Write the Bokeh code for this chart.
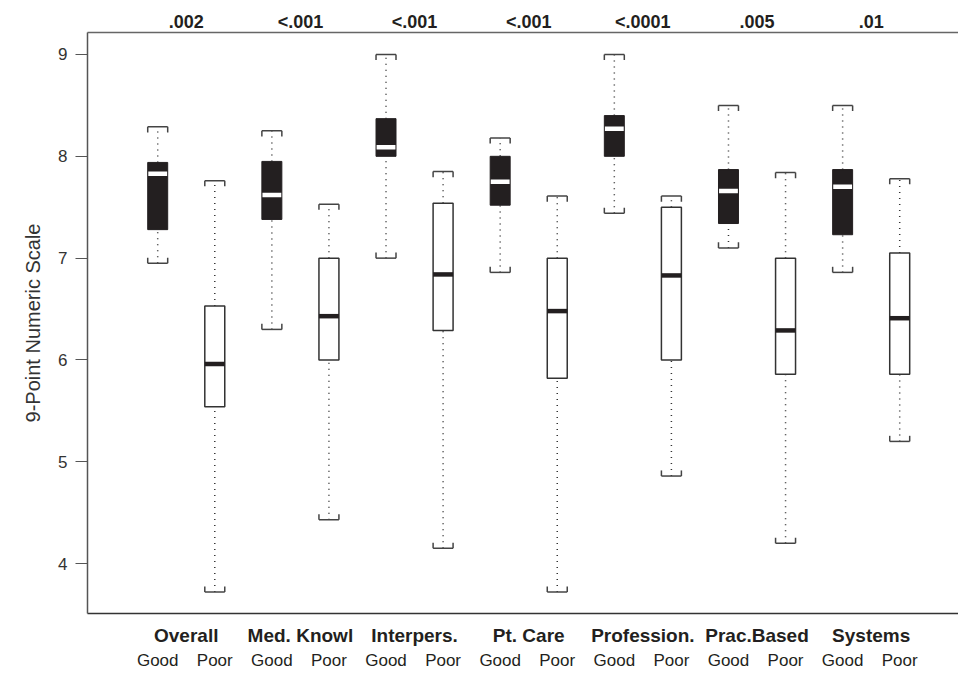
from bokeh.plotting import figure
from bokeh.models import Range1d, LinearAxis, FixedTicker, ColumnDataSource
from bokeh.embed import file_html
from bokeh.resources import INLINE

categories = ["Overall", "Med. Knowl", "Interpers.", "Pt. Care", "Profession.", "Prac.Based", "Systems"]
p_values = [".002", "<.001", "<.001", "<.001", "<.0001", ".005", ".01"]
groups = ["Good", "Poor"]
y_ticks = [4, 5, 6, 7, 8, 9]

good_low = [6.95, 6.30, 7.00, 6.86, 7.44, 7.10, 6.86]
good_q1 = [7.28, 7.38, 8.00, 7.52, 8.00, 7.34, 7.23]
good_med = [7.83, 7.62, 8.09, 7.75, 8.27, 7.66, 7.70]
good_q3 = [7.94, 7.95, 8.37, 8.00, 8.40, 7.87, 7.87]
good_high = [8.29, 8.25, 9.00, 8.18, 9.00, 8.50, 8.50]

poor_low = [3.72, 4.43, 4.15, 3.72, 4.86, 4.20, 5.20]
poor_q1 = [5.54, 6.00, 6.29, 5.82, 6.00, 5.86, 5.86]
poor_med = [5.96, 6.43, 6.84, 6.48, 6.83, 6.29, 6.41]
poor_q3 = [6.53, 7.00, 7.54, 7.00, 7.50, 7.00, 7.05]
poor_high = [7.76, 7.53, 7.85, 7.61, 7.61, 7.84, 7.78]

# layout helpers
BW = 0.35      # box width (data units)
CAP_TICK = 0.055
DARK = "#231f20"
FONT = "Liberation Sans"

n = len(categories)
good_x = [2 * i + 1 for i in range(n)]
poor_x = [2 * i + 2 for i in range(n)]
pair_x = [2 * i + 1.5 for i in range(n)]

p = figure(width=958, height=673, output_backend="svg", toolbar_location=None,
           x_range=Range1d(-0.23, 15.03), y_range=Range1d(3.51, 9.216),
           x_axis_location=None, y_axis_location="left",
           min_border_left=87, min_border_right=0, min_border_top=32, min_border_bottom=60)
p.outline_line_color = None
p.grid.grid_line_color = None
p.background_fill_color = "white"
p.border_fill_color = "white"


def draw(xs, low, q1, med, q3, high, good):
    src = ColumnDataSource(dict(
        x=xs, low=low, q1=q1, med=med, q3=q3, high=high,
        xl=[x - BW / 2 for x in xs], xr=[x + BW / 2 for x in xs],
        hi_t=[h - CAP_TICK for h in high], lo_t=[l + CAP_TICK for l in low],
    ))
    # whiskers
    p.segment(x0="x", y0="q3", x1="x", y1="high", source=src, line_color="#333333",
              line_width=1.5, line_dash="1 5")
    p.segment(x0="x", y0="low", x1="x", y1="q1", source=src, line_color="#333333",
              line_width=1.5, line_dash="1 5")
    # caps (brackets)
    for y0, y1 in (("high", "hi_t"), ("low", "lo_t")):
        p.segment(x0="xl", y0=y0, x1="xr", y1=y0, source=src, line_color="#444444", line_width=1.5)
        p.segment(x0="xl", y0=y0, x1="xl", y1=y1, source=src, line_color="#444444", line_width=1.5)
        p.segment(x0="xr", y0=y0, x1="xr", y1=y1, source=src, line_color="#444444", line_width=1.5)
    # boxes
    if good:
        p.vbar(x="x", bottom="q1", top="q3", width=BW, source=src,
               fill_color=DARK, line_color=DARK, line_width=1)
        src.data["ml"] = [x - BW / 2 + 0.01 for x in xs]
        src.data["mr"] = [x + BW / 2 - 0.01 for x in xs]
        p.segment(x0="ml", y0="med", x1="mr", y1="med", source=src,
                  line_color="white", line_width=4.5, line_cap="butt")
    else:
        p.vbar(x="x", bottom="q1", top="q3", width=BW, source=src,
               fill_color="white", line_color="#333333", line_width=1.5)
        p.segment(x0="xl", y0="med", x1="xr", y1="med", source=src,
                  line_color=DARK, line_width=4.5, line_cap="butt")


draw(good_x, good_low, good_q1, good_med, good_q3, good_high, True)
draw(poor_x, poor_low, poor_q1, poor_med, poor_q3, poor_high, False)

# left axis
ya = p.yaxis[0]
ya.ticker = FixedTicker(ticks=y_ticks)
ya.axis_line_color = "#555555"
ya.axis_line_width = 1.5
ya.major_tick_line_color = "#555555"
ya.major_tick_line_width = 1.2
ya.major_tick_out = 12
ya.major_tick_in = 0
ya.minor_tick_out = 0
ya.minor_tick_in = 0
ya.major_label_standoff = 8
ya.major_label_text_font = FONT
ya.major_label_text_font_size = "17px"
ya.major_label_text_color = "#333333"
ya.axis_label = "9-Point Numeric Scale"
ya.axis_label_text_font = FONT
ya.axis_label_text_font_style = "normal"
ya.axis_label_text_font_size = "20px"
ya.axis_label_text_color = "#333333"
ya.axis_label_standoff = 11


def plain_axis(ticks, labels, **kw):
    ax = LinearAxis(ticker=FixedTicker(ticks=ticks),
                    major_label_overrides={t: l for t, l in zip(ticks, labels)},
                    major_tick_out=0, major_tick_in=0, minor_tick_out=0, minor_tick_in=0,
                    major_label_text_font=FONT, major_label_text_color=DARK, **kw)
    return ax


top_ax = plain_axis(pair_x, p_values, axis_line_color="#666666", axis_line_width=1.5,
                    major_label_text_font_style="bold", major_label_text_font_size="18px",
                    major_label_standoff=1)
p.add_layout(top_ax, "above")

cat_ax = plain_axis(pair_x, categories, axis_line_color="#333333", axis_line_width=1.5,
                    major_label_text_font_style="bold", major_label_text_font_size="19px",
                    major_label_standoff=11)
p.add_layout(cat_ax, "below")

grp_ax = plain_axis(good_x + poor_x, [groups[0]] * n + [groups[1]] * n, axis_line_color=None,
                    major_label_text_font_style="normal", major_label_text_font_size="17px",
                    major_label_standoff=2)
p.add_layout(grp_ax, "below")

open("out.html", "w").write(file_html(p, INLINE))
